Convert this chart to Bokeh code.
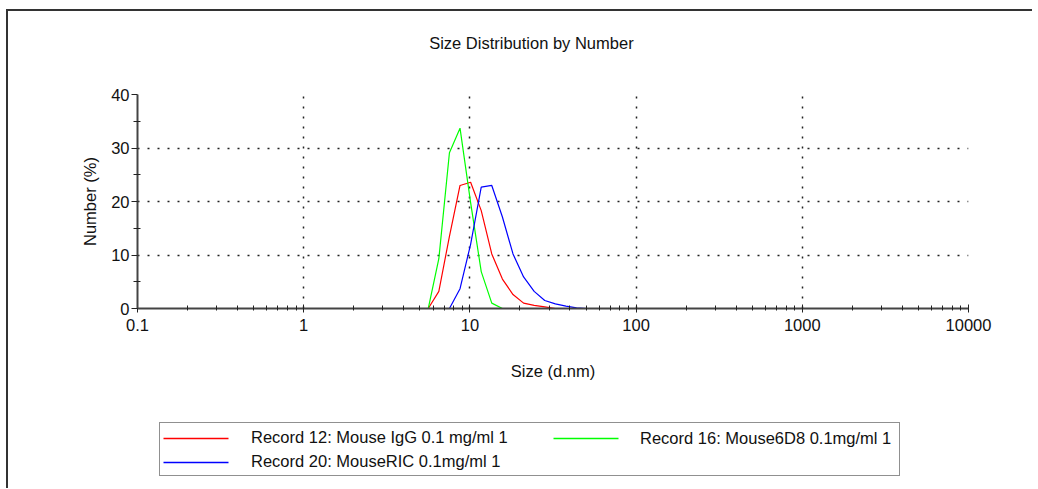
from bokeh.plotting import figure
from bokeh.layouts import column
from bokeh.models import Range1d, FixedTicker, Legend, LegendItem, Label
from bokeh.embed import file_html
from bokeh.resources import INLINE

# Size bins (d.nm)
sizes = [0.4, 0.4632, 0.5365, 0.6213, 0.7195, 0.8332, 0.9649, 1.117, 1.294, 1.499,
         1.736, 2.01, 2.328, 2.696, 3.122, 3.615, 4.187, 4.849, 5.615, 6.503,
         7.531, 8.721, 10.1, 11.7, 13.54, 15.69, 18.17, 21.04, 24.36, 28.21,
         32.67, 37.84, 43.82, 50.75, 58.77, 68.06, 78.82, 91.28, 105.7, 122.4,
         141.8, 164.2, 190.1, 220.2, 255.0, 295.3, 342.0, 396.1, 458.7, 531.2,
         615.1, 712.4, 825.0, 955.4, 1106, 1281, 1484, 1718, 1990, 2305,
         2669, 3091, 3580, 4145, 4801, 5560, 6439, 7456, 8635, 10000]

# Number (%)
red_vals = [0, 0, 0, 0, 0, 0, 0, 0, 0, 0,
            0, 0, 0, 0, 0, 0, 0, 0, 0, 3.2,
            13.5, 23.0, 23.6, 18.3, 10.2, 5.5, 2.6, 1.0, 0.6, 0.3,
            0, 0, 0, 0, 0, 0, 0, 0, 0, 0,
            0, 0, 0, 0, 0, 0, 0, 0, 0, 0,
            0, 0, 0, 0, 0, 0, 0, 0, 0, 0,
            0, 0, 0, 0, 0, 0, 0, 0, 0, 0]
green_vals = [0, 0, 0, 0, 0, 0, 0, 0, 0, 0,
              0, 0, 0, 0, 0, 0, 0, 0, 0, 9.3,
              29.1, 33.7, 19.8, 6.9, 1.0, 0, 0, 0, 0, 0,
              0, 0, 0, 0, 0, 0, 0, 0, 0, 0,
              0, 0, 0, 0, 0, 0, 0, 0, 0, 0,
              0, 0, 0, 0, 0, 0, 0, 0, 0, 0,
              0, 0, 0, 0, 0, 0, 0, 0, 0, 0]
blue_vals = [0, 0, 0, 0, 0, 0, 0, 0, 0, 0,
             0, 0, 0, 0, 0, 0, 0, 0, 0, 0,
             0, 3.7, 12.0, 22.7, 23.0, 17.1, 10.2, 5.9, 3.2, 1.5,
             0.87, 0.44, 0.1, 0, 0, 0, 0, 0, 0, 0,
             0, 0, 0, 0, 0, 0, 0, 0, 0, 0,
             0, 0, 0, 0, 0, 0, 0, 0, 0, 0,
             0, 0, 0, 0, 0, 0, 0, 0, 0, 0]

series_labels = ["Record 12: Mouse IgG 0.1 mg/ml 1",
                 "Record 16: Mouse6D8 0.1mg/ml 1",
                 "Record 20: MouseRIC 0.1mg/ml 1"]
series_colors = ["#ff0000", "#00ff00", "#0000ff"]

x_ticks = [0.1, 1, 10, 100, 1000, 10000]
x_tick_labels = ["0.1", "1", "10", "100", "1000", "10000"]
y_ticks = [0, 10, 20, 30, 40]

title_text = "Size Distribution by Number"
x_label = "Size (d.nm)"
y_label = "Number (%)"

FONT = "Liberation Sans"
FS = "16.5px"
W = 1024


def bare_figure(height, x_range, y_range):
    f = figure(width=W, height=height, x_range=x_range, y_range=y_range,
               output_backend="svg", toolbar_location=None, title=None,
               x_axis_location=None, y_axis_location=None,
               min_border_left=0, min_border_right=0,
               min_border_top=0, min_border_bottom=0)
    f.outline_line_color = None
    f.xgrid.visible = False
    f.ygrid.visible = False
    f.background_fill_color = "white"
    f.border_fill_color = "white"
    return f


# ---------------- title strip ----------------
t = bare_figure(60, Range1d(0, 1), Range1d(0, 1))
t.add_layout(Label(x=0.474, y=0.48, text=title_text, text_align="center",
                   text_baseline="middle", text_font=FONT, text_font_size=FS,
                   text_color="#111"))

# ---------------- main chart ----------------
p = figure(width=W, height=323, x_axis_type="log",
           x_range=Range1d(0.1, 10000), y_range=Range1d(0, 40),
           output_backend="svg", toolbar_location=None, title=None,
           min_border_left=129, min_border_right=W - 129 - 831,
           min_border_top=23, min_border_bottom=86)
p.outline_line_color = None
p.background_fill_color = "white"
p.border_fill_color = "white"

p.line(sizes, red_vals, line_color=series_colors[0], line_width=1.2)
p.line(sizes, green_vals, line_color=series_colors[1], line_width=1.2)
p.line(sizes, blue_vals, line_color=series_colors[2], line_width=1.2)

x_minor = [m * d for d in [0.1, 1, 10, 100, 1000] for m in range(2, 10)]
p.xaxis.ticker = FixedTicker(ticks=x_ticks, minor_ticks=x_minor)
p.xaxis.major_label_overrides = dict(zip(x_ticks, x_tick_labels))
p.yaxis.ticker = FixedTicker(ticks=y_ticks, minor_ticks=[5, 15, 25, 35])

for ax in (p.xaxis[0], p.yaxis[0]):
    ax.axis_line_color = "#444"
    ax.axis_line_width = 2
    ax.major_tick_line_color = "#222"
    ax.minor_tick_line_color = "#222"
    ax.major_label_text_font = FONT
    ax.major_label_text_font_size = FS
    ax.major_label_text_color = "#111"
    ax.axis_label_text_font = FONT
    ax.axis_label_text_font_size = FS
    ax.axis_label_text_font_style = "normal"
    ax.axis_label_text_color = "#111"

p.xaxis.axis_label = x_label
p.yaxis.axis_label = y_label
p.xaxis.major_tick_in = 4
p.xaxis.major_tick_out = 4
p.xaxis.minor_tick_in = 3
p.xaxis.minor_tick_out = 2
p.xaxis.major_label_standoff = 6
p.xaxis.axis_label_standoff = 28
p.yaxis.major_tick_in = 0
p.yaxis.major_tick_out = 6
p.yaxis.minor_tick_in = 3
p.yaxis.minor_tick_out = 4
p.yaxis.major_label_standoff = 2
p.yaxis.axis_label_standoff = 9

p.xgrid.ticker = FixedTicker(ticks=x_ticks[1:])
p.ygrid.ticker = FixedTicker(ticks=y_ticks[1:])
for g in (p.xgrid[0], p.ygrid[0]):
    g.grid_line_color = "#222"
    g.grid_line_width = 1.5
    g.grid_line_dash = "2 8"

# ---------------- legend strip ----------------
# strip ranges are in page pixels (x: frame 137..968, y: strip top 394..bottom 488)
q = bare_figure(94, Range1d(137, 968), Range1d(488, 394))
# legend swatch segments (layout of the key, not data)
sw_x0 = [163, 553, 163]
sw_x1 = [228, 618, 228]
sw_y = [438, 438, 462]
q.segment(x0=sw_x0, y0=sw_y, x1=sw_x1, y1=sw_y, line_color=series_colors, line_width=1.5)

common = dict(orientation="vertical", glyph_width=65, glyph_height=20, label_height=20,
              label_standoff=22, spacing=4, margin=0, background_fill_alpha=0.0,
              label_text_font=FONT, label_text_font_size=FS, label_text_color="#111")
legend_a = Legend(items=[LegendItem(label=series_labels[0], renderers=[]),
                         LegendItem(label=series_labels[2], renderers=[])],
                  location=(22, 12), label_width=644, padding=4,
                  border_line_color="#222", border_line_width=1.5, **common)
legend_b = Legend(items=[LegendItem(label=series_labels[1], renderers=[])],
                  location=(416, 40), padding=0, border_line_color=None, **common)
q.add_layout(legend_a, "center")
q.add_layout(legend_b, "center")

layout = column(t, p, q, spacing=0)
layout.styles = {"border-left": "2px solid #333", "border-top": "2px solid #333",
                 "border-right": "none", "border-bottom": "none",
                 "outline": "none", "box-shadow": "none",
                 "margin-left": "6px", "margin-top": "9px"}

open("out.html", "w").write(file_html(layout, INLINE))
